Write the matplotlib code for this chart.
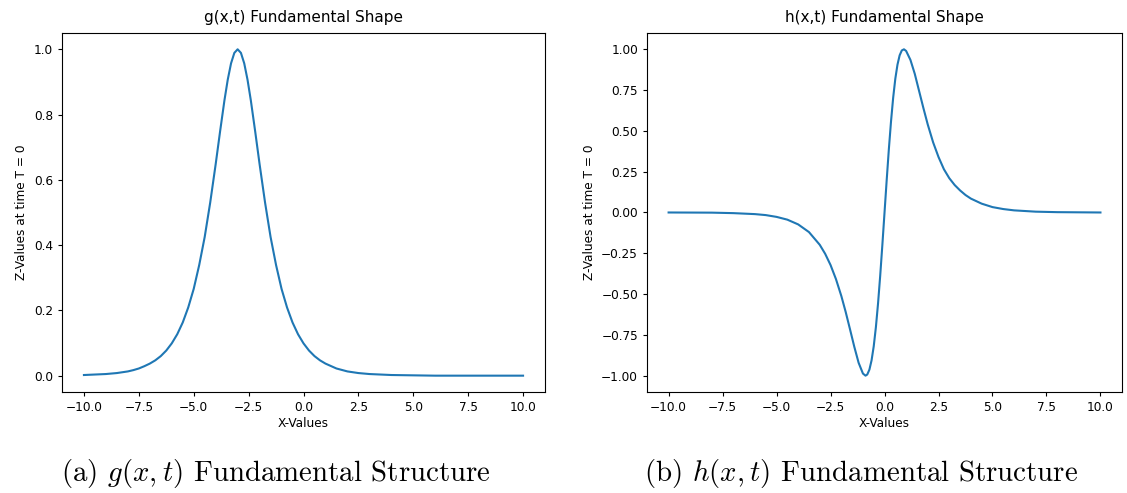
import numpy as np
import matplotlib
matplotlib.use("Agg")
import matplotlib.pyplot as plt

# valores (T = 0)
g_x = [-10.0, -9.0, -8.5, -8.0, -7.75, -7.5, -7.25, -7.0, -6.75, -6.5, -6.25,
       -6.0, -5.75, -5.5, -5.25, -5.0, -4.75, -4.5, -4.25, -4.0, -3.8, -3.6,
       -3.45, -3.3, -3.15, -3.0, -2.85, -2.7, -2.55, -2.4, -2.2, -2.0, -1.75,
       -1.5, -1.25, -1.0, -0.75, -0.5, -0.25, 0.0, 0.25, 0.5, 0.75, 1.0, 1.5,
       2.0, 2.5, 3.0, 4.0, 6.0, 8.0, 10.0]
g_z = [0.002, 0.005, 0.008, 0.013, 0.017, 0.022, 0.029, 0.037, 0.047, 0.060,
       0.077, 0.099, 0.127, 0.163, 0.209, 0.266, 0.339, 0.425, 0.530, 0.648,
       0.748, 0.844, 0.907, 0.957, 0.989, 1.000, 0.989, 0.957, 0.907, 0.844,
       0.748, 0.648, 0.530, 0.425, 0.339, 0.266, 0.209, 0.163, 0.127, 0.099,
       0.077, 0.060, 0.047, 0.037, 0.022, 0.013, 0.008, 0.005, 0.002, 0.0,
       0.0, 0.0]

h_x = [-10.0, -8.0, -7.0, -6.0, -5.5, -5.0, -4.5, -4.0, -3.5, -3.0, -2.75,
       -2.5, -2.25, -2.0, -1.8, -1.6, -1.4, -1.2, -1.0, -0.88, -0.8, -0.7,
       -0.6, -0.5, -0.4, -0.3, -0.2, -0.1, 0.0, 0.1, 0.2, 0.3, 0.4, 0.5, 0.6,
       0.7, 0.8, 0.9, 1.0, 1.2, 1.4, 1.6, 1.8, 2.0, 2.25, 2.5, 2.75, 3.0, 3.25,
       3.5, 3.75, 4.0, 4.5, 5.0, 5.5, 6.0, 7.0, 8.0, 10.0]
h_z = [0.0, -0.001, -0.004, -0.010, -0.016, -0.027, -0.044, -0.073, -0.120,
       -0.198, -0.253, -0.322, -0.408, -0.512, -0.609, -0.715, -0.823, -0.921,
       -0.987, -1.000, -0.993, -0.963, -0.906, -0.820, -0.703, -0.557, -0.387,
       -0.198, 0.0, 0.198, 0.387, 0.557, 0.703, 0.820, 0.906, 0.963, 0.993,
       1.000, 0.990, 0.935, 0.850, 0.745, 0.640, 0.540, 0.430, 0.340, 0.265,
       0.210, 0.168, 0.135, 0.107, 0.085, 0.054, 0.033, 0.021, 0.013, 0.005,
       0.002, 0.0]

titulos = ["g(x,t) Fundamental Shape", "h(x,t) Fundamental Shape"]
legendas = ["(a) $g(x,t)$ Fundamental Structure", "(b) $h(x,t)$ Fundamental Structure"]

plt.rcParams['mathtext.fontset'] = 'cm'

fig = plt.figure(figsize=(11.27, 4.93), dpi=100)
ax1 = fig.add_axes([0.0550, 0.2049, 0.4286, 0.7282])
ax2 = fig.add_axes([0.5741, 0.2049, 0.4215, 0.7282])

for ax, x, z, tit in [(ax1, g_x, g_z, titulos[0]), (ax2, h_x, h_z, titulos[1])]:
    ax.plot(x, z, color='#1f77b4', lw=1.5)
    ax.set_title(tit, fontsize=11, pad=8)
    ax.set_xlabel('X-Values', fontsize=8.7, labelpad=2)
    ax.set_ylabel('Z-Values at time T = 0', fontsize=8.7)
    ax.tick_params(labelsize=8.7, length=3)
    ax.set_xticks(np.arange(-10, 10.1, 2.5))

ax1.set_yticks(np.arange(0, 1.01, 0.2))
ax2.set_yticks(np.arange(-1, 1.01, 0.25))

fig.text(0.245, 0.025, legendas[0], fontsize=20.8, family='cmr10', ha='center')
fig.text(0.764, 0.025, legendas[1], fontsize=20.8, family='cmr10', ha='center')

fig.savefig('out.png', dpi=100)
